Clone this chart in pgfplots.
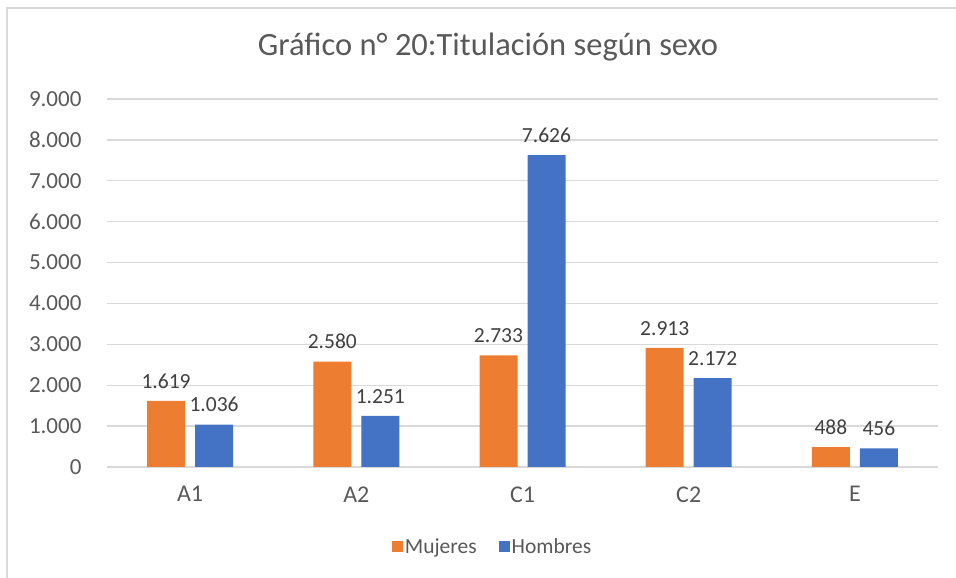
\documentclass[border=0pt]{standalone}
\usepackage{pgfplots}
\pgfplotsset{compat=1.18}
\usepackage{fontspec}
\setmainfont{Carlito}
\definecolor{morange}{HTML}{ED7D31}
\definecolor{mblue}{HTML}{4472C4}
\definecolor{gridc}{HTML}{D9D9D9}
\definecolor{txt}{HTML}{595959}
\definecolor{lbl}{HTML}{404040}
\begin{document}
\begin{tikzpicture}[x=1pt,y=1pt]
\path[use as bounding box] (0,0) rectangle (956,578);
\draw[gridc, line width=1.5pt] (7,-2) -- (7,570) -- (958,570);
\node[font=\fontsize{32.5}{36}\selectfont, text=txt] at (488,531) {Gráfico n° 20:Titulación según sexo};
\begin{axis}[at={(107pt,111pt)}, anchor=south west, scale only axis,
  width=831pt, height=368pt,
  ybar, bar width=38pt, ybar=10pt,
  xmin=-0.5, xmax=4.5, ymin=0, ymax=9000,
  xtick={0,1,2,3,4}, xticklabels={A1,A2,C1,C2,E},
  ytick={0,1000,...,9000},
  ymajorgrids, grid style={gridc, line width=1.3pt},
  axis line style={draw=none}, major tick length=0pt,
  tick label style={font=\fontsize{23}{26}\selectfont, text=txt},
  xticklabel style={font=\fontsize{24}{26}\selectfont, yshift=-16pt},
  /pgf/number format/1000 sep={.},
  /pgf/number format/assume math mode=true,
  yticklabel style={xshift=-22pt},
  nodes near coords,
  every node near coord/.append style={font=\fontsize{21.5}{24}\selectfont, text=lbl, yshift=9pt},
  legend style={at={(0.464,-0.217)}, anchor=center, draw=none, legend columns=2,
    font=\fontsize{21.5}{24}\selectfont, text=txt,
    /tikz/every even column/.append style={column sep=20pt}},
  legend image code/.code={\fill[#1] (0pt,-5.5pt) rectangle (11pt,5.5pt);},
]
\addplot[fill=morange, draw=none] coordinates {(0,1619) (1,2580) (2,2733) (3,2913) (4,488)};
\addplot[fill=mblue, draw=none] coordinates {(0,1036) (1,1251) (2,7626) (3,2172) (4,456)};
\legend{Mujeres, Hombres}
\end{axis}
\end{tikzpicture}
\end{document}
